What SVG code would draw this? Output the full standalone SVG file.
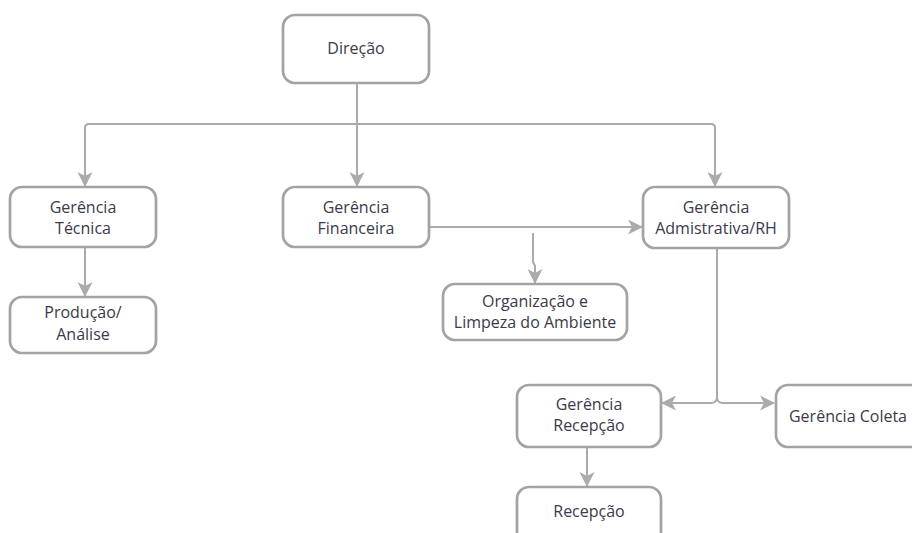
<svg xmlns="http://www.w3.org/2000/svg" width="912" height="533" viewBox="0 0 912 533">
<style>
.box{fill:#fff;stroke:#a3a3a3;stroke-width:2.7}
.t{font-family:"Open Sans","DejaVu Sans",sans-serif;font-size:16px;fill:#3a3a4a;text-anchor:middle}
.c{fill:none;stroke:#ababab;stroke-width:2}
</style>
<defs>
<marker id="ah" markerUnits="userSpaceOnUse" viewBox="0 0 15 15" markerWidth="15" markerHeight="15" refX="14" refY="7.5" orient="auto">
<path d="M0,0 L15,7.5 L0,15 L4,7.5 z" fill="#ababab"/>
</marker>
</defs>
<rect width="912" height="533" fill="#fff"/>
<g id="connectors">
<path class="c" d="M357,83 V186" marker-end="url(#ah)"/>
<path class="c" d="M357,124 H89 Q85,124 85,128 V186" marker-end="url(#ah)"/>
<path class="c" d="M357,124 H711 Q715,124 715,128 V186" marker-end="url(#ah)"/>
<path class="c" d="M85,247 V296" marker-end="url(#ah)"/>
<path class="c" d="M429,227 H642" marker-end="url(#ah)"/>
<path class="c" d="M533,233 V262 L535,266 V283" marker-end="url(#ah)"/>
<path class="c" d="M717,249 V397 Q717,403 711,403 H662" marker-end="url(#ah)"/>
<path class="c" d="M717,397 Q717,403 723,403 H774" marker-end="url(#ah)"/>
<path class="c" d="M587,447 V486" marker-end="url(#ah)"/>
</g>
<g id="direcao"><rect class="box" x="283" y="15" width="146" height="68" rx="12"/><text class="t" x="356" y="54">Direção</text></g>
<g id="gerencia-tecnica"><rect class="box" x="10" y="187" width="146" height="60" rx="12"/><text class="t" x="83" y="213">Gerência</text><text class="t" x="83" y="234">Técnica</text></g>
<g id="gerencia-financeira"><rect class="box" x="283" y="187" width="146" height="60" rx="12"/><text class="t" x="356" y="213">Gerência</text><text class="t" x="356" y="234">Financeira</text></g>
<g id="gerencia-admin"><rect class="box" x="643" y="187" width="146" height="61" rx="12"/><text class="t" x="716" y="213">Gerência</text><text class="t" x="716" y="234">Admistrativa/RH</text></g>
<g id="producao"><rect class="box" x="10" y="297" width="146" height="56" rx="12"/><text class="t" x="83" y="318">Produção/</text><text class="t" x="83" y="340">Análise</text></g>
<g id="organizacao"><rect class="box" x="443" y="284" width="184" height="56" rx="12"/><text class="t" x="535" y="307">Organização e</text><text class="t" x="535" y="328">Limpeza do Ambiente</text></g>
<g id="gerencia-recepcao"><rect class="box" x="517" y="385" width="144" height="62" rx="12"/><text class="t" x="589" y="410">Gerência</text><text class="t" x="589" y="431">Recepção</text></g>
<g id="recepcao"><rect class="box" x="517" y="487" width="144" height="62" rx="12"/><text class="t" x="589" y="517">Recepção</text></g>
<g id="gerencia-coleta"><rect class="box" x="776" y="385" width="150" height="62" rx="12"/><text class="t" x="848" y="422">Gerência Coleta</text></g>
</svg>
